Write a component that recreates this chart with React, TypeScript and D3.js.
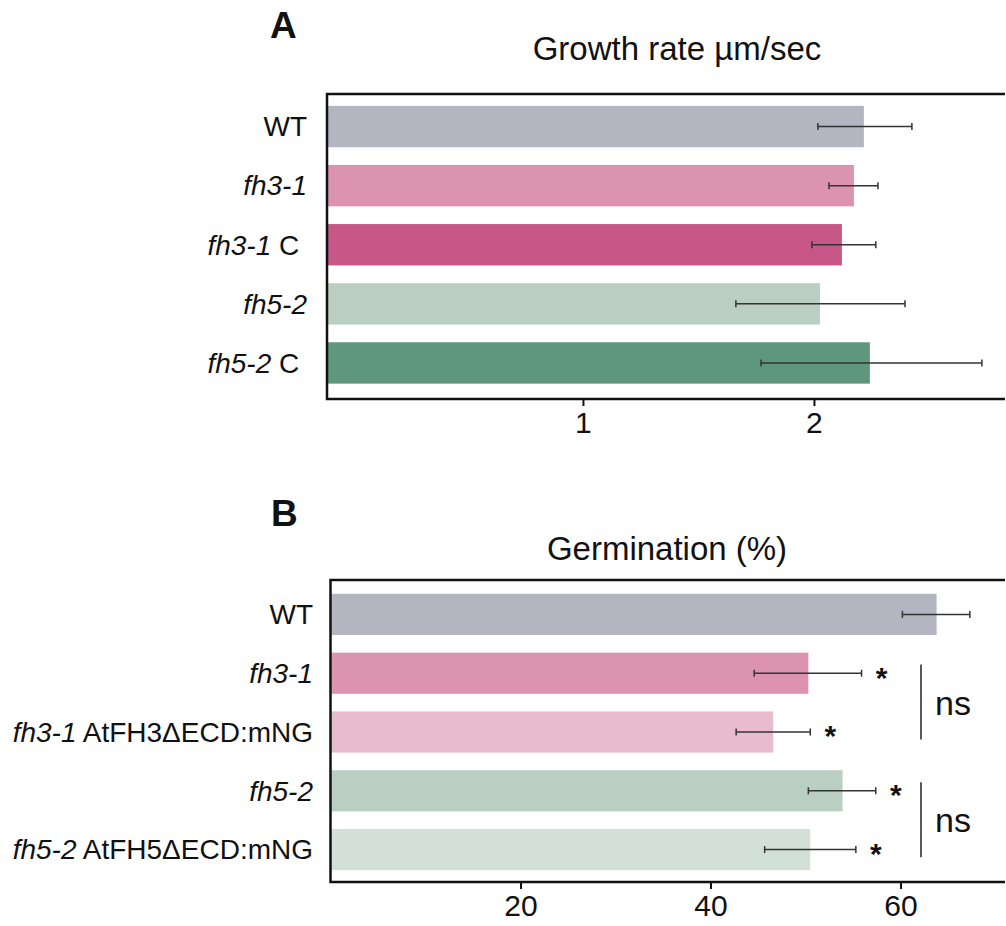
import React, { useEffect, useRef } from 'react';
import * as d3 from 'd3';

// Panel A: pollen tube growth rate
const categoriesA = ['WT', 'fh3-1', 'fh3-1 C ', 'fh5-2', 'fh5-2 C '];
const italicA = ['', 'fh3-1', 'fh3-1', 'fh5-2', 'fh5-2'];
const valuesA = [2.216, 2.173, 2.121, 2.026, 2.242];
const errLowA = [2.017, 2.065, 1.991, 1.662, 1.771];
const errHighA = [2.424, 2.277, 2.268, 2.394, 2.727];
const colorsA = ['#b3b6c0', '#db93b0', '#c75788', '#bacec1', '#5e977b'];
const ticksA = [1, 2];

// Panel B: germination
const categoriesB = ['WT', 'fh3-1', 'fh3-1 AtFH3ΔECD:mNG', 'fh5-2', 'fh5-2 AtFH5ΔECD:mNG'];
const italicB = ['', 'fh3-1', 'fh3-1', 'fh5-2', 'fh5-2'];
const valuesB = [63.8, 50.3, 46.6, 53.9, 50.5];
const errLowB = [60.2, 44.6, 42.7, 50.3, 45.7];
const errHighB = [67.3, 55.9, 50.5, 57.4, 55.3];
const colorsB = ['#b3b6c0', '#db93b0', '#e8bccd', '#bacec1', '#d3e0d7'];
const starsB = ['', '*', '*', '*', '*'];
const nsPairs = [[1, 2], [3, 4]];
const ticksB = [20, 40, 60];

const FONT = 'Liberation Sans, Arial, sans-serif';

function drawPanel(svg, opt) {
  const g = svg.append('g');
  const x = d3.scaleLinear().domain(opt.xDomain).range([opt.left, opt.right]);
  const y = d3.scaleBand().domain(opt.categories).range(opt.yRange)
    .paddingInner(0.3).paddingOuter(0.15);

  // bars
  g.selectAll('rect.bar')
    .data(opt.values)
    .join('rect')
    .attr('class', 'bar')
    .attr('x', x.range()[0] + 1)
    .attr('y', (d, i) => y(opt.categories[i]))
    .attr('width', d => x(d) - x.range()[0] - 1)
    .attr('height', y.bandwidth())
    .attr('fill', (d, i) => opt.colors[i]);

  // error bars
  const eb = g.selectAll('g.err')
    .data(opt.values)
    .join('g')
    .attr('class', 'err')
    .attr('stroke', '#333')
    .attr('stroke-width', 1.5);
  eb.append('line')
    .attr('x1', (d, i) => x(opt.errLow[i]))
    .attr('x2', (d, i) => x(opt.errHigh[i]))
    .attr('y1', (d, i) => y(opt.categories[i]) + y.bandwidth() / 2)
    .attr('y2', (d, i) => y(opt.categories[i]) + y.bandwidth() / 2);
  [opt.errLow, opt.errHigh].forEach(arr => {
    eb.append('line')
      .attr('x1', (d, i) => x(arr[i]))
      .attr('x2', (d, i) => x(arr[i]))
      .attr('y1', (d, i) => y(opt.categories[i]) + y.bandwidth() / 2 - 3.5)
      .attr('y2', (d, i) => y(opt.categories[i]) + y.bandwidth() / 2 + 3.5);
  });

  // frame
  g.append('path')
    .attr('d', `M${opt.right},${opt.top}H${opt.left}V${opt.bottom}H${opt.right}`)
    .attr('fill', 'none')
    .attr('stroke', '#111')
    .attr('stroke-width', 2.5);

  // x axis
  const axis = g.append('g')
    .attr('transform', `translate(0,${opt.bottom})`)
    .call(d3.axisBottom(x).tickValues(opt.ticks).tickFormat(d3.format('d'))
      .tickSize(7).tickSizeOuter(0).tickPadding(6));
  axis.select('.domain').remove();
  axis.selectAll('line').attr('stroke', '#111').attr('stroke-width', 2);
  axis.selectAll('text')
    .attr('font-family', FONT)
    .attr('font-size', opt.tickFont)
    .attr('fill', '#111');

  // category labels
  const lab = g.selectAll('text.cat')
    .data(opt.categories)
    .join('text')
    .attr('class', 'cat')
    .attr('x', opt.labelX)
    .attr('y', d => y(d) + y.bandwidth() / 2)
    .attr('dy', '0.35em')
    .attr('text-anchor', 'end')
    .attr('font-family', FONT)
    .attr('font-size', 28)
    .attr('fill', '#111')
    .style('white-space', 'pre');
  lab.append('tspan')
    .attr('font-style', 'italic')
    .text((d, i) => opt.italic[i]);
  lab.append('tspan')
    .text((d, i) => d.slice(opt.italic[i].length));

  // titles
  g.append('text')
    .attr('x', opt.letterX).attr('y', opt.letterY)
    .attr('font-family', FONT).attr('font-weight', 'bold').attr('font-size', 37)
    .attr('fill', '#111')
    .text(opt.letter);
  g.append('text')
    .attr('x', opt.titleX).attr('y', opt.titleY)
    .attr('text-anchor', 'middle')
    .attr('font-family', FONT).attr('font-size', 33)
    .attr('fill', '#111')
    .text(opt.title);

  return { x, y, g };
}

export default function App() {
  const svgRef = useRef(null);

  useEffect(() => {
    const svg = d3.select(svgRef.current);
    svg.selectAll('*').remove();

    drawPanel(svg, {
      categories: categoriesA, italic: italicA, values: valuesA,
      errLow: errLowA, errHigh: errHighA, colors: colorsA, ticks: ticksA,
      xDomain: [-0.108, 2.827], left: 327, right: 1005, top: 94, bottom: 399,
      yRange: [97, 392.5], labelX: 307, tickFont: 30,
      letter: 'A', letterX: 270, letterY: 38,
      title: 'Growth rate µm/sec', titleX: 677, titleY: 60,
    });

    const b = drawPanel(svg, {
      categories: categoriesB, italic: italicB, values: valuesB,
      errLow: errLowB, errHigh: errHighB, colors: colorsB, ticks: ticksB,
      xDomain: [0, 71], left: 330.5, right: 1005, top: 580, bottom: 882,
      yRange: [585, 879], labelX: 313, tickFont: 30,
      letter: 'B', letterX: 271, letterY: 526,
      title: 'Germination (%)', titleX: 667, titleY: 560,
    });

    // significance stars
    b.g.selectAll('text.star')
      .data(starsB)
      .join('text')
      .attr('class', 'star')
      .attr('x', (d, i) => b.x(errHighB[i]) + 20)
      .attr('y', (d, i) => b.y(categoriesB[i]) + b.y.bandwidth() / 2)
      .attr('dy', '0.48em')
      .attr('text-anchor', 'middle')
      .attr('font-family', FONT)
      .attr('font-weight', 'bold')
      .attr('font-size', 30)
      .attr('fill', '#111')
      .text(d => d);

    // "ns" brackets
    const nsG = b.g.selectAll('g.ns')
      .data(nsPairs)
      .join('g')
      .attr('class', 'ns');
    nsG.append('line')
      .attr('x1', 921).attr('x2', 921)
      .attr('y1', d => b.y(categoriesB[d[0]]) + 12)
      .attr('y2', d => b.y(categoriesB[d[1]]) + b.y.bandwidth() - 13)
      .attr('stroke', '#222')
      .attr('stroke-width', 1.5);
    nsG.append('text')
      .attr('x', 935)
      .attr('y', d => (b.y(categoriesB[d[0]]) + b.y(categoriesB[d[1]]) + b.y.bandwidth()) / 2)
      .attr('dy', '0.35em')
      .attr('font-family', FONT)
      .attr('font-size', 34)
      .attr('fill', '#111')
      .text('ns');
  });

  return (
    <svg
      ref={svgRef}
      width={1006}
      height={926}
      style={{ position: 'absolute', left: 0, top: 0, background: '#fff' }}
    />
  );
}
